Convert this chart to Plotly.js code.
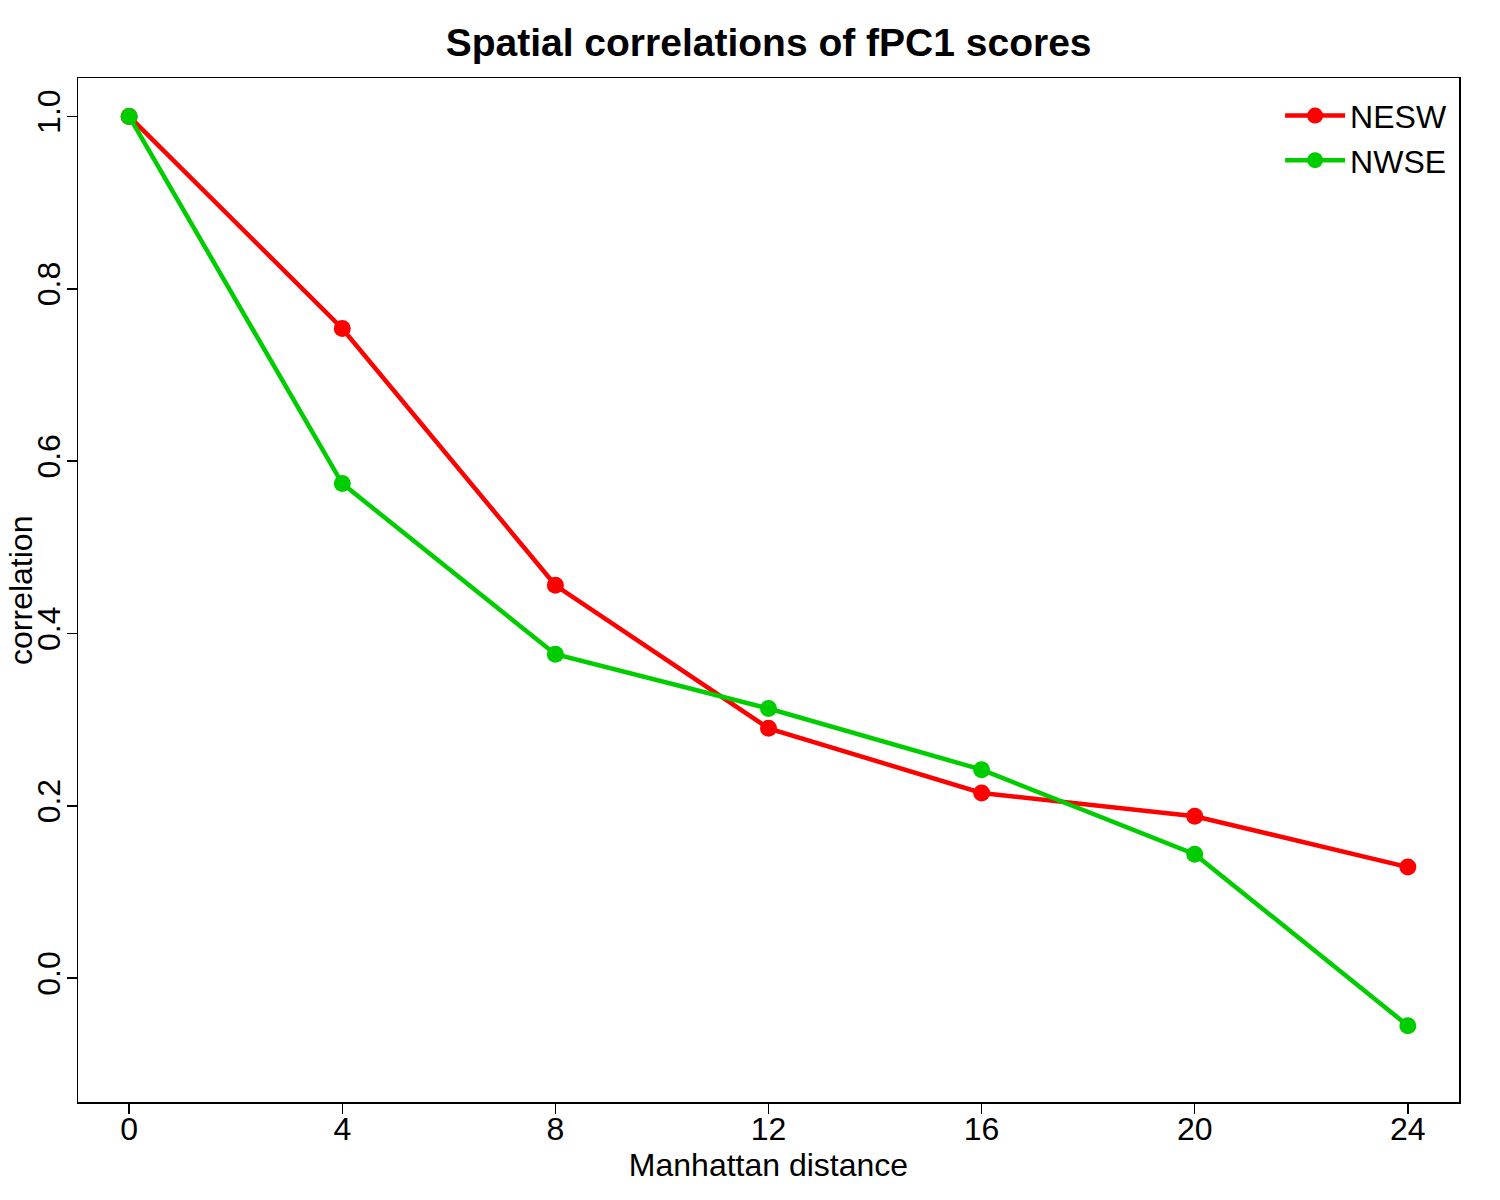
<!DOCTYPE html>
<html>
<head>
<meta charset="utf-8">
<script src="https://cdn.plot.ly/plotly-3.0.1.min.js"></script>
<style>
  html, body { margin: 0; padding: 0; background: #fff; }
  #chart { width: 1500px; height: 1200px; }
</style>
</head>
<body>
<div id="chart"></div>
<script>
// Manhattan distance lags
const distances = [0, 4, 8, 12, 16, 20, 24];

// correlation of fPC1 scores along each diagonal direction
const nesw = [1.0, 0.754, 0.456, 0.290, 0.215, 0.188, 0.129];
const nwse = [1.0, 0.574, 0.376, 0.313, 0.242, 0.144, -0.055];

const xTicks = [0, 4, 8, 12, 16, 20, 24];
const yTicks = [0.0, 0.2, 0.4, 0.6, 0.8, 1.0];

const baseFont = 'Liberation Sans, Arial, sans-serif';

function makeTrace(name, y, color) {
    return {
        x: distances,
        y: y,
        name: name,
        type: 'scatter',
        mode: 'lines+markers',
        line: { color: color, width: 4.5 },
        marker: { color: color, size: 17 }
    };
}

const traces = [
    makeTrace('NESW', nesw, '#ff0000'),
    makeTrace('NWSE', nwse, '#00cd00')
];

const axisCommon = {
    showgrid: false,
    zeroline: false,
    showline: true,
    mirror: true,
    linecolor: '#000',
    linewidth: 1.5,
    ticks: 'outside',
    ticklen: 10,
    tickwidth: 1.5,
    tickcolor: '#000',
    tickfont: { family: baseFont, size: 32, color: '#000' }
};

const layout = {
    width: 1500,
    height: 1200,
    paper_bgcolor: '#fff',
    plot_bgcolor: '#fff',
    margin: { l: 78, r: 41, t: 78, b: 98 },
    title: {
        text: '<b>Spatial correlations of fPC1 scores</b>',
        font: { family: baseFont, size: 39, color: '#000' },
        x: 0.5124,
        xanchor: 'center',
        y: 0.965,
        yanchor: 'middle'
    },
    xaxis: Object.assign({}, axisCommon, {
        range: [-0.96, 24.96],
        tickvals: xTicks,
        ticktext: xTicks.map(String),
        ticklabelstandoff: -12,
        title: {
            text: 'Manhattan distance',
            font: { family: baseFont, size: 32, color: '#000' },
            standoff: 0
        }
    }),
    yaxis: Object.assign({}, axisCommon, {
        range: [-0.1436, 1.0446],
        tickvals: yTicks,
        ticktext: yTicks.map(v => v.toFixed(1)),
        tickangle: -90,
        ticklabelstandoff: -6
    }),
    // y-axis title as annotation so it can sit further left like the original
    annotations: [{
        text: 'correlation',
        xref: 'paper',
        yref: 'paper',
        x: -0.0413,
        y: 0.5,
        xanchor: 'center',
        yanchor: 'middle',
        textangle: -90,
        borderpad: 0,
        showarrow: false,
        font: { family: baseFont, size: 32, color: '#000' }
    }],
    showlegend: true,
    legend: {
        x: 0.995,
        xanchor: 'right',
        y: 0.99,
        yanchor: 'top',
        bgcolor: 'rgba(0,0,0,0)',
        itemwidth: 60,
        font: { family: baseFont, size: 32, color: '#000' },
        tracegroupgap: 0
    }
};

Plotly.newPlot('chart', traces, layout, { displayModeBar: false, staticPlot: true });
</script>
</body>
</html>
